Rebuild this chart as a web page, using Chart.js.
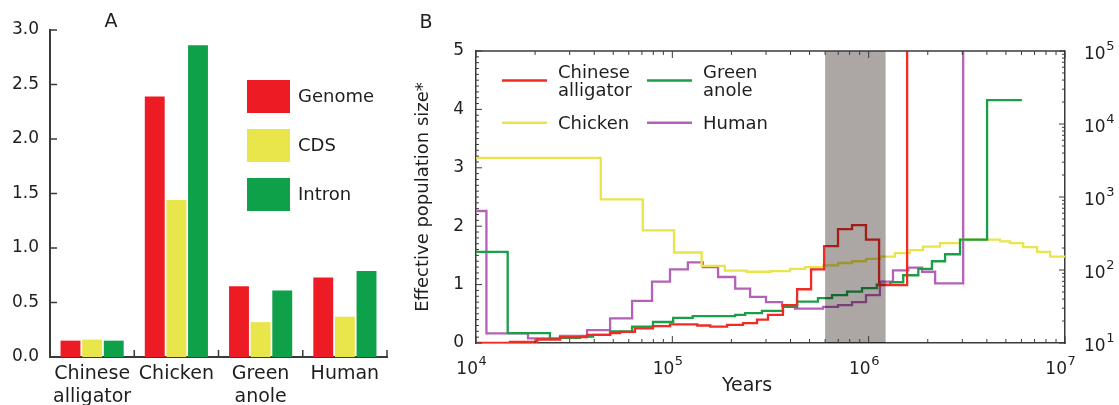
<!DOCTYPE html>
<html>
<head>
<meta charset="utf-8">
<script src="https://cdn.jsdelivr.net/npm/chart.js@4.4.0/dist/chart.umd.min.js"></script>
<style>
  body { margin: 0; background: #fff; width: 1119px; height: 405px; overflow: hidden; position: relative; }
  #wrapA { position: absolute; left: 0; top: 0; }
  #wrapB { position: absolute; left: 400px; top: 0; }
</style>
</head>
<body>
<div id="wrapA"><canvas id="chartA" width="400" height="405"></canvas></div>
<div id="wrapB"><canvas id="chartB" width="719" height="405"></canvas></div>
<script>
// ---- Panel A data ----
const species = [['Chinese', 'alligator'], 'Chicken', ['Green', 'anole'], 'Human'];
const genomeVals = [0.15, 2.39, 0.65, 0.73];
const cdsVals = [0.16, 1.44, 0.32, 0.37];
const intronVals = [0.15, 2.86, 0.61, 0.79];
const yTicksA = [0, 0.5, 1, 1.5, 2, 2.5, 3];

// ---- Panel B data (step curves: value holds from each year to the next) ----
const alligatorYears = [1e4, 1.49e4, 2.05e4, 2.68e4, 3.68e4, 4.82e4, 5.42e4, 6.45e4, 7.97e4, 9.73e4, 1.34e5, 1.56e5, 1.90e5, 2.29e5, 2.70e5, 3.07e5, 3.66e5, 4.32e5, 5.09e5, 5.93e5, 6.98e5, 8.23e5, 9.69e5, 1.13e6, 1.57e6];
const alligatorNe = [0.00, 0.02, 0.06, 0.10, 0.14, 0.17, 0.19, 0.25, 0.29, 0.32, 0.30, 0.28, 0.31, 0.34, 0.40, 0.48, 0.65, 0.92, 1.26, 1.66, 1.95, 2.02, 1.77, 0.99, 6.0];

const anoleYears = [1e4, 1.45e4, 2.38e4, 2.68e4, 3.39e4, 3.95e4, 4.82e4, 6.24e4, 7.97e4, 1.01e5, 1.27e5, 2.09e5, 2.35e5, 2.86e5, 3.66e5, 4.32e5, 5.52e5, 6.51e5, 7.76e5, 9.25e5, 1.10e6, 1.29e6, 1.50e6, 1.79e6, 2.10e6, 2.45e6, 2.92e6, 4.01e6, 6.03e6];
const anoleNe = [1.56, 0.17, 0.07, 0.09, 0.11, 0.14, 0.20, 0.28, 0.36, 0.43, 0.46, 0.48, 0.51, 0.55, 0.62, 0.71, 0.77, 0.82, 0.88, 0.94, 1.00, 1.04, 1.16, 1.27, 1.40, 1.52, 1.77, 4.16, 4.16];

const chickenYears = [1e4, 4.32e4, 7.07e4, 1.02e5, 1.41e5, 1.85e5, 2.39e5, 3.15e5, 3.98e5, 4.75e5, 5.86e5, 6.98e5, 8.23e5, 9.69e5, 1.14e6, 1.36e6, 1.62e6, 1.89e6, 2.31e6, 2.92e6, 4.67e6, 5.25e6, 6.12e6, 7.21e6, 8.40e6, 1e7];
const chickenNe = [3.17, 2.46, 1.93, 1.55, 1.32, 1.24, 1.22, 1.23, 1.27, 1.30, 1.33, 1.37, 1.40, 1.44, 1.48, 1.54, 1.59, 1.65, 1.71, 1.77, 1.74, 1.71, 1.64, 1.56, 1.48, 1.48];

const humanYears = [1e4, 1.13e4, 1.84e4, 2.68e4, 3.68e4, 4.82e4, 6.24e4, 7.88e4, 9.73e4, 1.20e5, 1.43e5, 1.71e5, 2.09e5, 2.49e5, 3.00e5, 3.62e5, 4.22e5, 5.86e5, 6.98e5, 8.23e5, 9.69e5, 1.14e6, 1.33e6, 1.59e6, 1.87e6, 2.18e6, 3.03e6];
const humanNe = [2.26, 0.165, 0.08, 0.12, 0.22, 0.42, 0.72, 1.05, 1.26, 1.38, 1.30, 1.13, 0.93, 0.79, 0.70, 0.63, 0.59, 0.62, 0.65, 0.70, 0.82, 1.05, 1.245, 1.29, 1.22, 1.02, 6.0];

const bandYears = [6.0e5, 1.22e6];
const xTickYears = [1e4, 1e5, 1e6, 1e7];
const rightTicks = [1e1, 1e2, 1e3, 1e4, 1e5];
const legendLinesB = [['Chinese', 'alligator'], ['Green', 'anole'], ['Chicken'], ['Human']];

const FONT = '"DejaVu Sans", "Liberation Sans", Arial, sans-serif';
const axisColor = '#3a3a3a';
const textColor = '#1e1e1e';
Chart.defaults.font.family = FONT;
Chart.defaults.color = textColor;

function line(ctx, x1, y1, x2, y2) {
  ctx.beginPath();
  ctx.moveTo(x1, y1);
  ctx.lineTo(x2, y2);
  ctx.stroke();
}

// "10" with a raised exponent; (x, y) = right/left anchor of "10" and its baseline
function drawPow(ctx, v, x, y, align) {
  const exp = String(Math.round(Math.log10(v)));
  ctx.font = '17px ' + FONT;
  const w = ctx.measureText('10').width;
  const left = align === 'right' ? x - w : x;
  ctx.textAlign = 'left';
  ctx.textBaseline = 'alphabetic';
  ctx.fillText('10', left, y);
  ctx.font = '13px ' + FONT;
  ctx.fillText(exp, left + w + 0.5, y - 9);
}

// ---- Panel A ----
const panelADeco = {
  id: 'panelADeco',
  afterDraw(chart) {
    const { ctx, chartArea: ca, scales: { y } } = chart;
    ctx.save();
    ctx.strokeStyle = axisColor;
    ctx.lineWidth = 1.5;
    yTicksA.forEach(v => {
      const py = y.getPixelForValue(v);
      line(ctx, ca.left, py, ca.left + 7, py);
    });
    for (let i = 1; i <= species.length; i++) {
      const px = ca.left + (ca.right - ca.left) * i / species.length;
      line(ctx, px, ca.bottom, px, ca.bottom - 7);
    }
    ctx.fillStyle = textColor;
    ctx.font = '19px ' + FONT;
    ctx.textAlign = 'center';
    ctx.textBaseline = 'middle';
    ctx.fillText('A', 111, 22);

    // legend
    ctx.font = '18px ' + FONT;
    chart.data.datasets.forEach((ds, i) => {
      const top = 80 + i * 49;
      ctx.fillStyle = ds.backgroundColor;
      ctx.fillRect(247, top, 43, 33);
      ctx.fillStyle = textColor;
      ctx.textAlign = 'left';
      ctx.fillText(ds.label, 298, top + 17);
    });
    ctx.restore();
  }
};

new Chart(document.getElementById('chartA'), {
  type: 'bar',
  data: {
    labels: species,
    datasets: [
      { label: 'Genome', data: genomeVals, backgroundColor: '#ed1c24' },
      { label: 'CDS', data: cdsVals, backgroundColor: '#e8e64a' },
      { label: 'Intron', data: intronVals, backgroundColor: '#0fa04a' }
    ]
  },
  options: {
    responsive: false,
    animation: false,
    layout: { padding: { top: 30, right: 13, left: 0, bottom: 0 } },
    datasets: { bar: { categoryPercentage: 0.77, barPercentage: 0.92 } },
    plugins: { legend: { display: false }, tooltip: { enabled: false } },
    scales: {
      x: {
        grid: { display: false, drawTicks: false },
        border: { color: axisColor, width: 2 },
        ticks: { font: { size: 19, lineHeight: 1.2 }, padding: 6, color: textColor, maxRotation: 0, autoSkip: false },
        afterFit: s => { s.height = 48; }
      },
      y: {
        min: 0,
        max: 3,
        grid: { display: false, drawTicks: false },
        border: { color: axisColor, width: 2 },
        ticks: { stepSize: 0.5, font: { size: 17 }, padding: 11, color: textColor, callback: v => v.toFixed(1) },
        afterFit: s => { s.width = 50; }
      }
    }
  },
  plugins: [panelADeco]
});

// ---- Panel B ----
function toPoints(xs, ys) {
  return xs.map((x, i) => ({ x: x, y: ys[i] }));
}

const panelBDeco = {
  id: 'panelBDeco',
  afterDatasetsDraw(chart) {
    const { ctx, chartArea: ca, scales: { x } } = chart;
    const x1 = x.getPixelForValue(bandYears[0]);
    const x2 = x.getPixelForValue(bandYears[1]);
    ctx.save();
    ctx.globalCompositeOperation = 'multiply';
    ctx.fillStyle = 'rgb(172,167,165)';
    ctx.fillRect(x1, ca.top, x2 - x1, ca.bottom - ca.top);
    ctx.restore();
  },
  afterDraw(chart) {
    const { ctx, chartArea: ca, scales: { x, y, y2 } } = chart;
    ctx.save();
    ctx.strokeStyle = axisColor;
    // top frame line
    ctx.lineWidth = 1.5;
    line(ctx, ca.left, ca.top, ca.right, ca.top);
    ctx.lineWidth = 1;
    // left minor/major ticks
    for (let k = 0; k <= 50; k++) {
      const py = y.getPixelForValue(k / 10);
      const len = k % 10 === 0 ? 6 : 3;
      line(ctx, ca.left, py, ca.left + len, py);
    }
    // right log ticks
    for (let e = 1; e <= 5; e++) {
      for (let m = 1; m <= 9; m++) {
        const v = m * Math.pow(10, e);
        if (v > 1e5) break;
        const py = y2.getPixelForValue(v);
        line(ctx, ca.right, py, ca.right - (m === 1 ? 6 : 3), py);
      }
    }
    // top and bottom log ticks
    for (let e = 4; e <= 7; e++) {
      for (let m = 1; m <= 9; m++) {
        const v = m * Math.pow(10, e);
        if (v > 1e7) break;
        const px = x.getPixelForValue(v);
        const len = m === 1 ? 7 : 4;
        line(ctx, px, ca.bottom, px, ca.bottom - len);
        line(ctx, px, ca.top, px, ca.top + len);
      }
    }

    // tick labels with superscript exponents
    ctx.fillStyle = textColor;
    xTickYears.forEach(v => drawPow(ctx, v, x.getPixelForValue(v) + 2, 373.5, 'right'));
    rightTicks.forEach(v => drawPow(ctx, v, ca.right + 19, y2.getPixelForValue(v) + 8, 'left'));

    ctx.font = '19px ' + FONT;
    ctx.textAlign = 'center';
    ctx.textBaseline = 'middle';
    ctx.fillText('B', 26, 23);
    ctx.fillText('Years', 347, 386);

    // legend
    ctx.font = '18px ' + FONT;
    const cols = [102, 247];
    const rows = [80.5, 122.7];
    chart.data.datasets.forEach((ds, i) => {
      const cx = cols[i % 2];
      const cy = rows[Math.floor(i / 2)];
      ctx.strokeStyle = ds.borderColor;
      ctx.lineWidth = 2.5;
      line(ctx, cx, cy, cx + 45, cy);
      ctx.fillStyle = textColor;
      ctx.textAlign = 'left';
      const lines = legendLinesB[i];
      if (lines.length === 2) {
        ctx.fillText(lines[0], cx + 56, cy - 7.5);
        ctx.fillText(lines[1], cx + 56, cy + 11);
      } else {
        ctx.fillText(lines[0], cx + 56, cy + 1.5);
      }
    });
    ctx.restore();
  }
};

const stepStyle = { stepped: true, pointRadius: 0, borderWidth: 2.3, fill: false, tension: 0 };

new Chart(document.getElementById('chartB'), {
  type: 'line',
  data: {
    datasets: [
      Object.assign({ label: 'Chinese alligator', data: toPoints(alligatorYears, alligatorNe), borderColor: '#ef2b24' }, stepStyle),
      Object.assign({ label: 'Green anole', data: toPoints(anoleYears, anoleNe), borderColor: '#1a9e48' }, stepStyle),
      Object.assign({ label: 'Chicken', data: toPoints(chickenYears, chickenNe), borderColor: '#e8e44c' }, stepStyle),
      Object.assign({ label: 'Human', data: toPoints(humanYears, humanNe), borderColor: '#b462b8' }, stepStyle)
    ]
  },
  options: {
    responsive: false,
    animation: false,
    layout: { padding: { top: 51, right: 0, left: 0, bottom: 0 } },
    plugins: { legend: { display: false }, tooltip: { enabled: false } },
    scales: {
      x: {
        type: 'logarithmic',
        min: 1e4,
        max: 1e7,
        grid: { display: false, drawTicks: false },
        border: { color: axisColor, width: 1.5 },
        afterBuildTicks: s => { s.ticks = xTickYears.map(v => ({ value: v })); },
        ticks: { display: false },
        afterFit: s => { s.height = 62; }
      },
      y: {
        position: 'left',
        min: 0,
        max: 5,
        grid: { display: false, drawTicks: false },
        border: { color: axisColor, width: 1.5 },
        ticks: { stepSize: 1, padding: 12, font: { size: 17 }, color: textColor },
        title: { display: true, text: 'Effective population size*', font: { size: 18 }, color: textColor, padding: { top: 13, bottom: 0 } },
        afterFit: s => { s.width = 76; }
      },
      y2: {
        type: 'logarithmic',
        position: 'right',
        min: 10,
        max: 1e5,
        grid: { display: false, drawTicks: false },
        border: { color: axisColor, width: 1.5 },
        afterBuildTicks: s => { s.ticks = rightTicks.map(v => ({ value: v })); },
        ticks: { display: false },
        afterFit: s => { s.width = 54; }
      }
    }
  },
  plugins: [panelBDeco]
});
</script>
</body>
</html>
